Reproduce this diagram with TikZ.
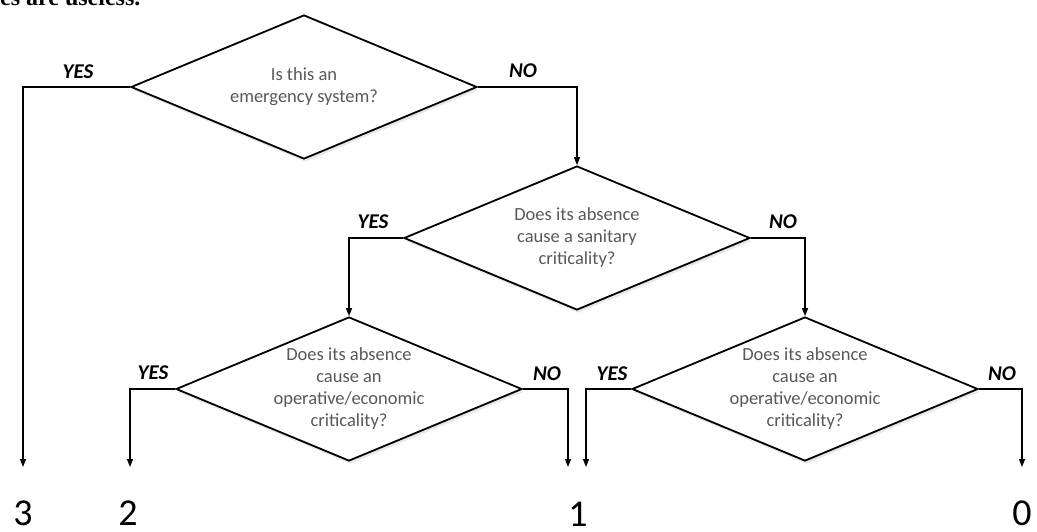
\documentclass[tikz,border=0pt]{standalone}
\usepackage{fontspec}
\setmainfont{Carlito}
\newfontfamily\serifcut{Liberation Serif}
\usetikzlibrary{shapes.geometric,arrows.meta,shadows}
\begin{document}
\begin{tikzpicture}[x=1pt,y=-1pt,
  dia/.style={diamond, draw, line width=1.8pt, minimum width=346pt, minimum height=144pt,
    inner sep=0pt, fill=white, line join=miter,
    drop shadow={opacity=0.18, shadow xshift=1.5pt, shadow yshift=-3pt}},
  qtext/.style={align=center, text=black!65, font=\fontsize{18.5}{22}\selectfont, inner sep=0pt},
  conn/.style={draw, line width=1.4pt, -{Triangle[length=8pt,width=6pt]}},
  yn/.style={font=\fontsize{21}{22}\selectfont\bfseries\itshape, inner sep=0pt},
  digit/.style={font=\fontsize{38}{40}\selectfont, inner sep=0pt}]
\useasboundingbox (0,0) rectangle (1037,531);
\fill[white] (0,0) rectangle (1037,531);
% cut-off text at the top
\node[anchor=base west, inner sep=0pt, font=\serifcut\bfseries\fontsize{24}{26}\selectfont] (cut) at (0,5) {es are useless.};
% diamonds
\node[dia] (d1) at (304,87) {};
\node[qtext] (t1) at (d1) {Is this an\\emergency system?};
\node[dia] (d2) at (577,238) {};
\node[qtext] (t2) at (d2) {Does its absence\\cause a sanitary\\criticality?};
\node[dia] (d3) at (349,389) {};
\node[qtext] (t3) at (d3) {Does its absence\\cause an\\operative/economic\\criticality?};
\node[dia] (d4) at (805,389) {};
\node[qtext] (t4) at (d4) {Does its absence\\cause an\\operative/economic\\criticality?};
% end points
\coordinate (e3) at (23,467);
\coordinate (e2) at (130,467);
\coordinate (e1a) at (568,467);
\coordinate (e1b) at (586,467);
\coordinate (e0) at (1022,467);
% results
\node[digit] (n3) at (23,513) {3};
\node[digit] (n2) at (128,513) {2};
\node[digit] (n1) at (578,514) {1};
\node[digit] (n0) at (1022,513) {0};
% connectors
\draw[conn] (d1.west) -| (e3);
\draw[conn] (d1.east) -| (d2.north);
\draw[conn] (d2.west) -| (d3.north);
\draw[conn] (d2.east) -| (d4.north);
\draw[conn] (d3.west) -| (e2);
\draw[conn] (d3.east) -| (e1a);
\draw[conn] (d4.west) -| (e1b);
\draw[conn] (d4.east) -| (e0);
% labels
\node[yn] (y1) at (78,72) {YES};
\node[yn] (no1) at (523,71) {NO};
\node[yn] (y2) at (373,222) {YES};
\node[yn] (no2) at (783,222) {NO};
\node[yn] (y3) at (153,373) {YES};
\node[yn] (no3) at (547,374) {NO};
\node[yn] (y4) at (612,374) {YES};
\node[yn] (no4) at (1002,374) {NO};
\end{tikzpicture}
\end{document}
